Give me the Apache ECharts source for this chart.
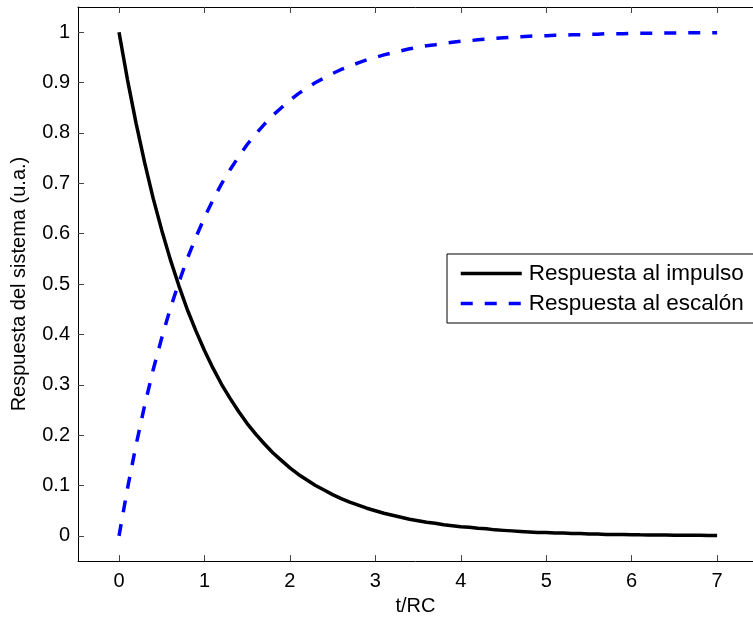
<!DOCTYPE html>
<html>
<head>
<meta charset="utf-8">
<script src="https://cdn.jsdelivr.net/npm/echarts@6/dist/echarts.min.js"></script>
<style>
html,body{margin:0;padding:0;background:#fff;}
#chart{width:753px;height:621px;}
</style>
</head>
<body>
<div id="chart"></div>
<script>
// t/RC sample points
var tValues = [0.0,0.1,0.2,0.3,0.4,0.5,0.6,0.7,0.8,0.9,1.0,1.1,1.2,1.3,1.4,1.5,1.6,1.7,1.8,1.9,
  2.0,2.1,2.2,2.3,2.4,2.5,2.6,2.7,2.8,2.9,3.0,3.1,3.2,3.3,3.4,3.5,3.6,3.7,3.8,3.9,
  4.0,4.1,4.2,4.3,4.4,4.5,4.6,4.7,4.8,4.9,5.0,5.1,5.2,5.3,5.4,5.5,5.6,5.7,5.8,5.9,
  6.0,6.1,6.2,6.3,6.4,6.5,6.6,6.7,6.8,6.9,7.0];
// Respuesta al impulso
var impulseValues = [1.000,0.905,0.819,0.741,0.670,0.607,0.549,0.497,0.449,0.407,0.368,0.333,0.301,0.273,0.247,0.223,0.202,0.183,0.165,0.150,
  0.135,0.122,0.111,0.100,0.091,0.082,0.074,0.067,0.061,0.055,0.050,0.045,0.041,0.037,0.033,0.030,0.027,0.025,0.022,0.020,
  0.018,0.017,0.015,0.014,0.012,0.011,0.010,0.009,0.008,0.007,0.007,0.006,0.006,0.005,0.005,0.004,0.004,0.003,0.003,0.003,
  0.0025,0.0022,0.0020,0.0018,0.0017,0.0015,0.0014,0.0012,0.0011,0.0010,0.0009];
// Respuesta al escalón
var stepValues = [0.000,0.095,0.181,0.259,0.330,0.393,0.451,0.503,0.551,0.593,0.632,0.667,0.699,0.727,0.753,0.777,0.798,0.817,0.835,0.850,
  0.865,0.878,0.889,0.900,0.909,0.918,0.926,0.933,0.939,0.945,0.950,0.955,0.959,0.963,0.967,0.970,0.973,0.975,0.978,0.980,
  0.982,0.983,0.985,0.986,0.988,0.989,0.990,0.991,0.992,0.993,0.993,0.994,0.994,0.995,0.995,0.996,0.996,0.997,0.997,0.997,
  0.9975,0.9978,0.9980,0.9982,0.9983,0.9985,0.9986,0.9988,0.9989,0.9990,0.9991];
var xTicks = [0,1,2,3,4,5,6,7];
var yTicks = [0,0.1,0.2,0.3,0.4,0.5,0.6,0.7,0.8,0.9,1];
var seriesNames = ['Respuesta al impulso','Respuesta al escalón'];

var FONT = '"Liberation Sans", Arial, Helvetica, sans-serif';
function pairs(xs, ys){ return xs.map(function(x,i){ return [x, ys[i]]; }); }
function fmt(v){ return String(Math.round(v*10)/10); }

var chart = echarts.init(document.getElementById('chart'), null, {renderer:'canvas'});
var axisLine = {show:true, onZero:false, lineStyle:{color:'#000', width:1}};
var tick = {show:true, inside:true, length:6, lineStyle:{color:'#444', width:1}};

var option = {
  animation:false,
  backgroundColor:'#fff',
  grid:{left:78, top:7, width:677, height:558, containLabel:false},
  legend:{
    orient:'vertical', left:447, top:254,
    backgroundColor:'#fff', borderColor:'#000', borderWidth:1, borderRadius:0,
    padding:[8,10,8,12],
    itemWidth:61, itemHeight:22, itemGap:7,
    itemStyle:{color:'rgba(0,0,0,0)', borderWidth:0, opacity:0},
    lineStyle:{width:3.5},
    data:seriesNames,
    textStyle:{fontFamily:FONT, fontSize:22.5, color:'#000', lineHeight:22, padding:[0,0,0,2]}
  },
  xAxis:[{
    type:'value', position:'bottom', min:-0.48, max:7.42,
    axisLine:axisLine,
    axisTick:Object.assign({customValues:xTicks}, tick),
    axisLabel:{customValues:xTicks, formatter:fmt, fontFamily:FONT, fontSize:20, color:'#000', margin:10},
    splitLine:{show:false},
    name:'t/RC', nameLocation:'middle', nameGap:34,
    nameTextStyle:{fontFamily:FONT, fontSize:20, color:'#000'}
  },{
    type:'value', position:'top', min:-0.48, max:7.42,
    axisLine:axisLine,
    axisTick:Object.assign({customValues:xTicks}, tick),
    axisLabel:{show:false}, splitLine:{show:false}
  }],
  yAxis:[{
    type:'value', position:'left', min:-0.05, max:1.05,
    axisLine:axisLine,
    axisTick:Object.assign({customValues:yTicks}, tick),
    axisLabel:{customValues:yTicks, formatter:fmt, fontFamily:FONT, fontSize:20, color:'#000', margin:8},
    splitLine:{show:false},
    name:'Respuesta del sistema (u.a.)', nameLocation:'middle', nameGap:49,
    nameTextStyle:{fontFamily:FONT, fontSize:20, color:'#000'}
  }],
  series:[{
    name:seriesNames[0], type:'line', data:pairs(tValues, impulseValues),
    showSymbol:false, symbol:'none', smooth:false,
    lineStyle:{color:'#000', width:3.5},
    itemStyle:{color:'#000'}
  },{
    name:seriesNames[1], type:'line', data:pairs(tValues, stepValues),
    showSymbol:false, symbol:'none', smooth:false,
    lineStyle:{color:'#0000ff', width:3.5, type:[12,12]},
    itemStyle:{color:'#0000ff'}
  }]
};
chart.setOption(option);
</script>
</body>
</html>
